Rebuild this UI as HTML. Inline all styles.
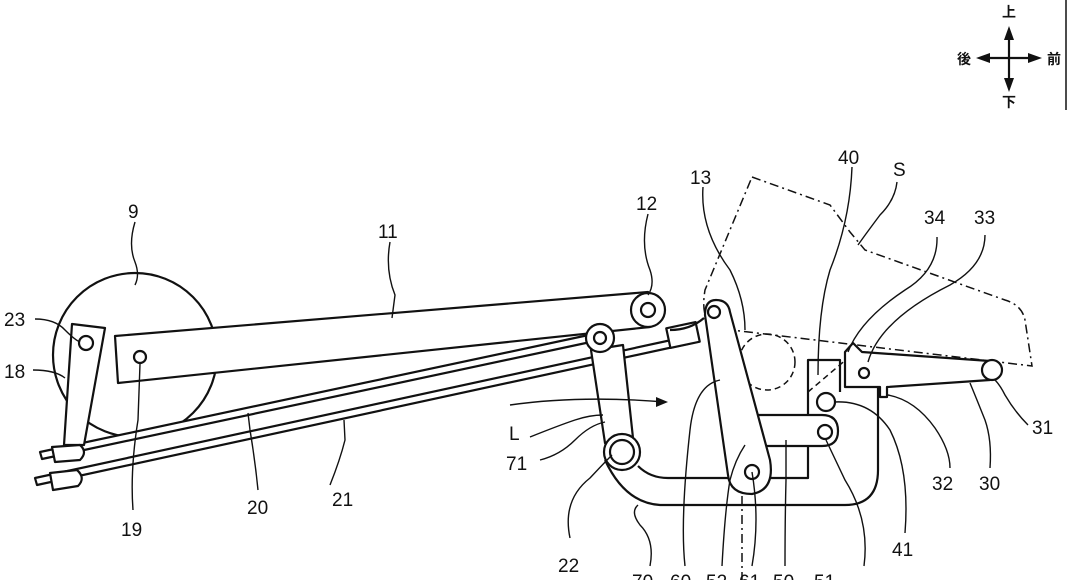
<!DOCTYPE html>
<html><head><meta charset="utf-8"><style>
html,body{margin:0;padding:0;background:#fff;}
svg{display:block;}
text{font-family:"Liberation Sans","Noto Sans CJK JP",sans-serif;font-size:19px;fill:#111;}
.j{font-size:14px;font-weight:bold;}
</style></head><body>
<svg width="1068" height="580" viewBox="0 0 1068 580" xmlns="http://www.w3.org/2000/svg">
<g fill="none" stroke="#111" stroke-width="2.2" stroke-linejoin="round">
<line x1="1009" y1="30" x2="1009" y2="88"/>
<line x1="980" y1="58" x2="1038" y2="58"/>
</g>
<g fill="#111">
<polygon points="1009,26 1004,40 1014,40"/>
<polygon points="1009,92 1004,78 1014,78"/>
<polygon points="976,58 990,53 990,63"/>
<polygon points="1042,58 1028,53 1028,63"/>
</g>
<text class="j" x="1002" y="17">上</text>
<text class="j" x="1002" y="107">下</text>
<text class="j" x="957" y="64">後</text>
<text class="j" x="1047" y="64">前</text>
<line x1="1066" y1="0" x2="1066" y2="110" stroke="#111" stroke-width="1.5"/>

<g fill="none" stroke="#111" stroke-width="1.5" stroke-dasharray="9,4,2,4">
<path d="M752,177 L830,205 L850,232 L865,250 L1005,300 Q1022,305 1025,320 L1032,366 L715,328 Q700,320 705,290 Z"/>
<line x1="742" y1="420" x2="742" y2="580"/>
</g>
<g fill="none" stroke="#111" stroke-width="1.5" stroke-dasharray="6,4">
<circle cx="767" cy="362" r="28"/>
<circle cx="748" cy="433" r="15"/>
<circle cx="752" cy="472" r="14"/>
<path d="M808,392 L848,358"/>
<path d="M860,360 Q875,362 875,385"/>
</g>

<g fill="#fff" stroke="#111" stroke-width="2.2" stroke-linejoin="round">
<circle cx="135" cy="355" r="82"/>
<polygon points="40,452 598,333 600,340 42,459"/>
<polygon points="35,478 690,336 692,343 37,485"/>
<rect x="668" y="325" width="30" height="20" transform="rotate(-12 683 335)"/>
<polygon points="115,336 648,292 650,327 118,383"/>
<circle cx="648" cy="310" r="17"/>
<circle cx="648" cy="310" r="7"/>
<polygon points="72,324 105,328 84,445 64,445"/>
<circle cx="86" cy="343" r="7"/>
<path d="M52,447 L80,445 Q88,452 80,460 L55,462 Z"/>
<path d="M50,473 L77,470 Q86,478 78,486 L53,490 Z"/>
</g>
<g fill="none" stroke="#111" stroke-width="2.2" stroke-linejoin="round">
<path d="M605,460 Q625,503 660,505 L845,505 Q878,505 878,470 L878,385"/>
<path d="M638,466 Q650,478 668,478 L808,478 L808,360 L840,360 L840,392"/>
</g>
<g fill="#fff" stroke="#111" stroke-width="2.2" stroke-linejoin="round">
<polygon points="591,350 623,345 633,438 605,443"/>
<circle cx="600" cy="338" r="14"/>
<circle cx="600" cy="338" r="6"/>
<circle cx="622" cy="452" r="18"/>
<circle cx="622" cy="452" r="12"/>
<path d="M740,415 L822,415 Q838,415 838,431 Q838,446 822,446 L740,446"/>
<circle cx="825" cy="432" r="7"/>
<path d="M705,315 Q705,300 716,300 Q728,300 730,312 L770,460 Q775,490 752,494 Q730,494 728,475 Z"/>
<circle cx="714" cy="312" r="6"/>
<circle cx="752" cy="472" r="7"/>
<path d="M845,352 L853,343 L862,352 L990,361 L990,380 L887,387 L887,397 L880,397 L880,387 L845,387 Z"/>
<circle cx="992" cy="370" r="10"/>
<circle cx="864" cy="373" r="5"/>
<circle cx="826" cy="402" r="9"/>
<circle cx="140" cy="357" r="6"/>
</g>
<path d="M704,318 Q690,330 670,330" fill="none" stroke="#111" stroke-width="2.2"/>

<g fill="none" stroke="#111" stroke-width="1.4">
<path d="M135,222 Q128,245 135,262 Q140,275 135,285"/>
<path d="M390,242 Q385,270 395,295 L392,318"/>
<path d="M648,214 Q640,245 650,270 Q655,285 648,295"/>
<path d="M703,187 Q700,230 730,270 Q745,300 745,330"/>
<path d="M852,167 Q850,220 830,270 Q818,310 818,375"/>
<path d="M897,182 Q895,200 880,215 Q865,235 858,245"/>
<path d="M937,237 Q938,270 905,290 Q860,320 848,352"/>
<path d="M985,235 Q985,265 950,285 Q880,320 868,362"/>
<path d="M1028,425 Q1015,412 1005,395 Q1000,385 995,380"/>
<path d="M990,468 Q992,440 985,420 Q975,395 970,383"/>
<path d="M950,468 Q950,450 935,428 Q915,400 888,395"/>
<path d="M905,533 Q910,470 890,430 Q870,400 834,402"/>
<path d="M864,566 Q870,520 845,480 L826,440"/>
<path d="M785,566 Q785,520 786,480 L786,440"/>
<path d="M752,566 Q760,520 752,472"/>
<path d="M722,566 Q725,510 730,480 Q735,460 745,445"/>
<path d="M685,566 Q680,520 690,430 Q695,385 720,380"/>
<path d="M650,566 Q655,540 640,525 Q630,512 638,505"/>
<path d="M570,538 Q562,500 590,478 Q605,462 612,455"/>
<path d="M540,460 Q560,455 575,440 Q590,425 605,422"/>
<path d="M530,437 Q560,425 575,420 Q590,415 603,415"/>
<path d="M510,405 Q580,395 665,402"/>
<path d="M35,319 Q55,319 65,330 Q75,340 80,342"/>
<path d="M33,370 Q55,370 65,378"/>
<path d="M133,510 Q130,470 138,420 L140,364"/>
<path d="M258,490 Q255,460 250,430 L248,413"/>
<path d="M330,485 Q340,460 345,440 L344,420"/>
</g>
<polygon points="668,402 656,397 656,407" fill="#111"/>

<g>
<text x="128" y="218">9</text>
<text x="378" y="238">11</text>
<text x="636" y="210">12</text>
<text x="690" y="184">13</text>
<text x="838" y="164">40</text>
<text x="893" y="176">S</text>
<text x="924" y="224">34</text>
<text x="974" y="224">33</text>
<text x="1032" y="434">31</text>
<text x="979" y="490">30</text>
<text x="932" y="490">32</text>
<text x="892" y="556">41</text>
<text x="4" y="326">23</text>
<text x="4" y="378">18</text>
<text x="121" y="536">19</text>
<text x="247" y="514">20</text>
<text x="332" y="506">21</text>
<text x="509" y="440">L</text>
<text x="506" y="470">71</text>
<text x="558" y="572">22</text>
<text x="632" y="588">70</text>
<text x="670" y="588">60</text>
<text x="706" y="588">52</text>
<text x="739" y="588">61</text>
<text x="773" y="588">50</text>
<text x="814" y="588">51</text>
</g>
</svg>
</body></html>
